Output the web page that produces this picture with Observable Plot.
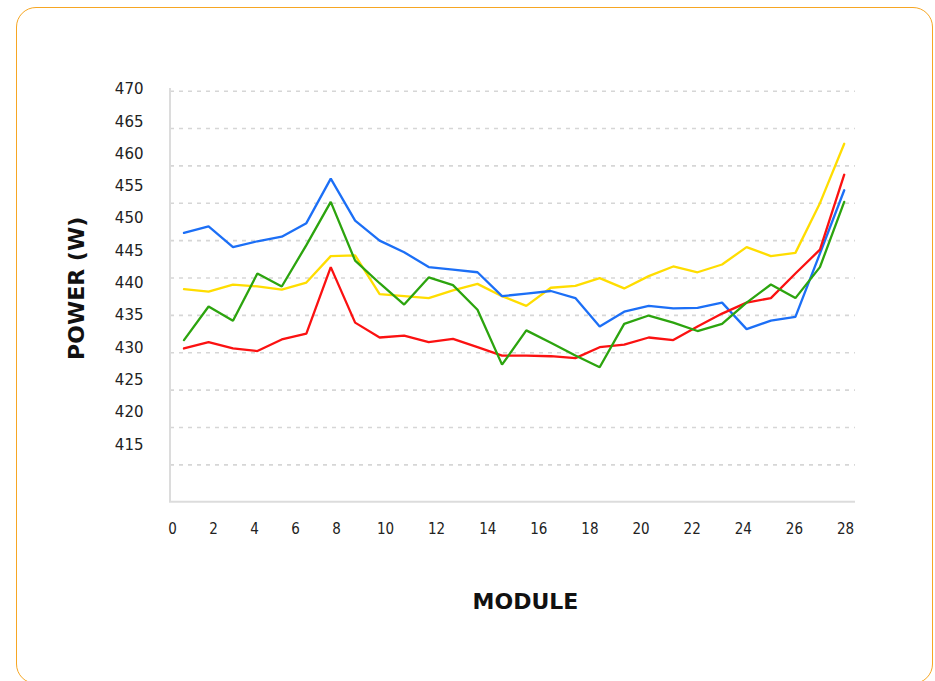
<!DOCTYPE html>
<html><head><meta charset="utf-8">
<script src="https://cdn.jsdelivr.net/npm/d3@7"></script>
<script src="https://cdn.jsdelivr.net/npm/@observablehq/plot@0.6"></script>
<style>
html,body{margin:0;padding:0;background:#fff;}
#card{position:absolute;left:16px;top:7px;width:917px;height:677px;border:1.5px solid #f6a623;border-radius:20px;box-sizing:border-box;}
#chart{position:absolute;left:0;top:0;}
#chart svg{background:transparent;}
</style></head><body>
<div id="card"></div>
<div id="chart"></div>
<script>
// Module positions as read against the x-axis labels
const modulePos = [0.56,1.76,2.95,4.14,5.33,6.53,7.72,8.76,9.76,10.73,11.69,12.64,13.60,14.56,15.51,16.47,17.43,18.38,19.34,20.30,21.26,22.21,23.17,24.13,25.08,26.04,27.00,27.95];
const seriesA = [447.8,448.8,445.6,446.5,447.2,449.3,456.2,449.7,446.6,444.8,442.5,442.1,441.7,438.0,438.4,438.8,437.7,433.3,435.6,436.5,436.1,436.2,437.0,432.9,434.2,434.8,444.6,454.4]; // blue
const seriesB = [431.2,436.4,434.2,441.5,439.5,445.9,452.6,443.5,440.0,436.7,440.9,439.7,435.9,427.4,432.7,430.8,428.8,427.0,433.7,435.0,433.9,432.6,433.7,437.0,439.8,437.7,442.5,452.6]; // green
const seriesC = [429.9,430.9,429.9,429.5,431.3,432.2,442.5,433.9,431.6,431.9,430.9,431.4,430.1,428.8,428.8,428.7,428.4,430.1,430.5,431.6,431.2,433.3,435.3,437.0,437.7,441.5,445.2,456.8]; // red
const seriesD = [439.1,438.7,439.8,439.5,439.0,440.1,444.2,444.3,438.3,438.0,437.7,438.9,439.9,438.0,436.5,439.3,439.6,440.8,439.2,441.1,442.6,441.7,442.9,445.6,444.2,444.7,452.4,461.6]; // yellow
const xTickLabels = [0,2,4,6,8,10,12,14,16,18,20,22,24,26,28];
const yTickLabels = [415,420,425,430,435,440,445,450,455,460,465,470];

const seriesList = [
  {name: "D", values: seriesD, color: "#ffdd00"},
  {name: "A", values: seriesA, color: "#1c6ff6"},
  {name: "C", values: seriesC, color: "#fb1111"},
  {name: "B", values: seriesB, color: "#2ca40e"}
];
const rows = seriesList.flatMap(s => s.values.map((v, i) => ({series: s.name, module: modulePos[i], power: v})));

const yDomain = [406.1, 470.15];
const gridStep = 5.785;
const gridValues = d3.range(1, 12).map(k => yDomain[0] + k * gridStep);

const axisLines = (index, scales, values, dim) => {
  const g = d3.create("svg:g").attr("stroke", "#dcdcdc").attr("stroke-width", 2);
  g.append("line").attr("x1", dim.marginLeft).attr("x2", dim.marginLeft)
    .attr("y1", dim.marginTop).attr("y2", dim.height - dim.marginBottom);
  g.append("line").attr("x1", dim.marginLeft - 1).attr("x2", dim.width - dim.marginRight)
    .attr("y1", dim.height - dim.marginBottom).attr("y2", dim.height - dim.marginBottom);
  return g.node();
};

const chart = Plot.plot({
  width: 935,
  height: 681,
  marginLeft: 170,
  marginRight: 80,
  marginTop: 88,
  marginBottom: 179.3,
  style: {background: "transparent"},
  x: {type: "linear", domain: [0, 8, 10, 28], range: [172, 336, 385, 845]},
  y: {domain: yDomain},
  color: {type: "ordinal", domain: seriesList.map(s => s.name), range: seriesList.map(s => s.color)},
  marks: [
    Plot.ruleY(gridValues, {stroke: "#d6d6d6", strokeWidth: 1.6, strokeDasharray: "4,5"}),
    axisLines,
    Plot.axisY(yTickLabels, {tickSize: 0, tickPadding: 27, fontSize: 15, fontFamily: "DejaVu Sans", fill: "#222", tickFormat: d => String(d), label: null}),
    Plot.axisX(xTickLabels, {tickSize: 0, tickPadding: 21, fontSize: 15, fontFamily: "DejaVu Sans Condensed, Liberation Sans Narrow, DejaVu Sans", fill: "#222", tickFormat: d => String(d), label: null}),
    Plot.line(rows, {x: "module", y: "power", z: "series", stroke: "series", strokeWidth: 2.3, strokeLinejoin: "miter"}),
    Plot.text(["POWER (W)"], {text: d => d, frameAnchor: "left", textAnchor: "middle", rotate: -90, dx: -94, dy: -7, fontSize: 22, fontWeight: 700, fontFamily: "DejaVu Sans", fill: "#111"}),
    Plot.text(["MODULE"], {text: d => d, frameAnchor: "bottom", textAnchor: "middle", dx: 12.5, dy: 107, fontSize: 22, fontWeight: 700, fontFamily: "DejaVu Sans", fill: "#111"})
  ]
});
document.getElementById("chart").appendChild(chart);
</script>
</body></html>
